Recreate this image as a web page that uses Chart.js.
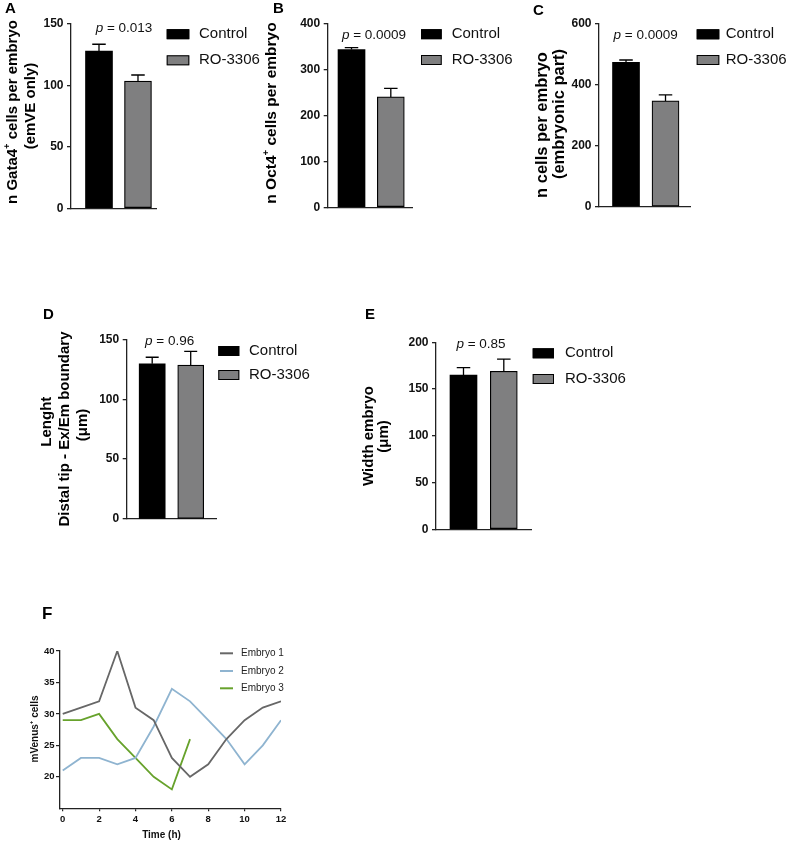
<!DOCTYPE html>
<html><head><meta charset="utf-8">
<script src="https://cdn.jsdelivr.net/npm/chart.js@4.4.1/dist/chart.umd.min.js"></script>
<style>
html,body{margin:0;padding:0;background:#fff;}
body{width:787px;height:842px;position:relative;overflow:hidden;}
canvas{position:absolute;}
</style>
</head><body>
<canvas id="cA" width="262" height="225" style="left:0px;top:0px"></canvas>
<canvas id="cB" width="262" height="225" style="left:262px;top:0px"></canvas>
<canvas id="cC" width="263" height="225" style="left:524px;top:0px"></canvas>
<canvas id="cD" width="300" height="240" style="left:30px;top:295px"></canvas>
<canvas id="cE" width="300" height="245" style="left:350px;top:295px"></canvas>
<canvas id="cF" width="330" height="247" style="left:20px;top:595px"></canvas>
<script>
// ---------------- DATA ----------------
const groups = ['Control', 'RO-3306'];
const gata4Mean = [128, 103.5];
const gata4Sem = [5.5, 5];
const oct4Mean = [343, 240];
const oct4Sem = [4, 18.5];
const cellsMean = [472, 346];
const cellsSem = [8, 20];
const lengthMean = [129.5, 128.5];
const lengthSem = [5.5, 11.5];
const widthMean = [165, 169];
const widthSem = [8, 13];
const pValues = ['0.013', '0.0009', '0.0009', '0.96', '0.85'];
const yTicksA = [0, 50, 100, 150];
const yTicksB = [0, 100, 200, 300, 400];
const yTicksC = [0, 200, 400, 600];
const yTicksD = [0, 50, 100, 150];
const yTicksE = [0, 50, 100, 150, 200];
const timeH = [0, 1, 2, 3, 4, 5, 6, 7, 8, 9, 10, 11, 12];
const embryo1 = [30, 31, 32, 40, 31, 29, 23, 20, 22, 26, 29, 31, 32];
const embryo2 = [21, 23, 23, 22, 23, 28, 34, 32, 29, 26, 22, 25, 29];
const embryo3 = [29, 29, 30, 26, 23, 20, 18, 26];
const embryoNames = ['Embryo 1', 'Embryo 2', 'Embryo 3'];
const timeTicks = [0, 2, 4, 6, 8, 10, 12];
const venusTicks = [20, 25, 30, 35, 40];

// ---------------- STYLES ----------------
const FONT = "'Liberation Sans', Arial, Helvetica, sans-serif";
const barColors = ['#000000', '#7f7f80'];
const lineColors = ['#676767', '#8fb4d0', '#67a22c'];
const AXIS = '#222222';

function drawRich(ctx, segs, size, cx, cy, rotate, bold, color) {
  ctx.save();
  ctx.translate(cx, cy);
  if (rotate) ctx.rotate(-Math.PI / 2);
  let total = 0;
  const parts = segs.map(s => {
    const fs = s.sup ? size * 0.62 : size;
    const font = (s.italic ? 'italic ' : '') + (bold ? 'bold ' : '') + fs + 'px ' + FONT;
    ctx.font = font;
    const w = ctx.measureText(s.t).width;
    total += w;
    return { t: s.t, font, w, dy: s.sup ? -size * 0.36 : 0 };
  });
  let x = -total / 2;
  ctx.textBaseline = 'middle';
  ctx.textAlign = 'left';
  ctx.fillStyle = color || '#000';
  for (const p of parts) { ctx.font = p.font; ctx.fillText(p.t, x, p.dy); x += p.w; }
  ctx.restore();
}

function barDeco(P) {
  return {
    id: 'barDeco',
    afterDatasetsDraw(chart) {
      const ctx = chart.ctx, ys = chart.scales.y;
      ctx.save();
      ctx.strokeStyle = '#000';
      ctx.lineWidth = 1.3;
      chart.data.datasets.forEach((ds, i) => {
        const bar = chart.getDatasetMeta(i).data[0];
        const yTop = ys.getPixelForValue(P.mean[i] + P.sem[i]);
        const half = P.barW * 0.25;
        ctx.beginPath();
        ctx.moveTo(bar.x, bar.y);
        ctx.lineTo(bar.x, yTop);
        ctx.moveTo(bar.x - half, yTop);
        ctx.lineTo(bar.x + half, yTop);
        ctx.stroke();
      });
      ctx.restore();
    },
    afterDraw(chart) {
      const ctx = chart.ctx, ox = P.left, oy = P.top;
      ctx.save();
      ctx.fillStyle = '#000';
      ctx.font = 'bold 15px ' + FONT;
      ctx.textBaseline = 'alphabetic';
      ctx.textAlign = 'left';
      ctx.fillText(P.letter, P.letterPos[0] - ox, P.letterPos[1] - oy);
      ctx.restore();
      P.title.forEach(l => drawRich(ctx, l.segs, P.titleSize, l.cx - ox, l.cy - oy, true, true, '#000'));
      drawRich(ctx, [{ t: 'p', italic: true }, { t: ' = ' + P.p }], 13.5, P.pPos[0] - ox, P.pPos[1] - oy, false, false, '#111');
      // legend
      ctx.save();
      groups.forEach((g, i) => {
        const cy = P.leg.cy[i] - oy;
        ctx.fillStyle = barColors[i];
        ctx.fillRect(P.leg.x - ox, cy - 5, P.leg.w, 10);
        ctx.strokeStyle = '#000';
        ctx.lineWidth = 1;
        ctx.strokeRect(P.leg.x - ox + 0.5, cy - 4.5, P.leg.w - 1, 9);
        ctx.fillStyle = '#111';
        ctx.font = '15px ' + FONT;
        ctx.textBaseline = 'middle';
        ctx.textAlign = 'left';
        ctx.fillText(g, P.leg.tx - ox, cy);
      });
      ctx.restore();
    }
  };
}

function barChart(P) {
  return new Chart(document.getElementById(P.id), {
    type: 'bar',
    data: {
      datasets: groups.map((g, i) => ({
        label: g,
        data: [{ x: i, y: P.mean[i] }],
        backgroundColor: barColors[i],
        borderColor: '#000000',
        borderWidth: i === 0 ? 0 : 1.2,
        borderSkipped: false,
        barThickness: P.barW,
        grouped: false
      }))
    },
    options: {
      responsive: false, animation: false, devicePixelRatio: 1,
      layout: { padding: P.pad },
      plugins: { legend: { display: false }, tooltip: { enabled: false } },
      scales: {
        x: {
          type: 'linear', min: P.xMin, max: P.xMax, offset: false,
          ticks: { display: false }, grid: { display: false },
          border: { display: true, color: AXIS, width: 1.3 },
          afterFit: s => { s.height = 0; }
        },
        y: {
          min: 0, max: P.ticks[P.ticks.length - 1],
          afterBuildTicks: s => { s.ticks = P.ticks.map(v => ({ value: v })); },
          ticks: { font: { family: FONT, size: 12, weight: 'bold' }, color: '#111', padding: 3.5 },
          grid: { display: true, drawOnChartArea: false, drawTicks: true, tickLength: 4, color: AXIS, lineWidth: 1.3 },
          border: { display: true, color: AXIS, width: 1.3 },
          afterFit: s => { s.width = 45; }
        }
      }
    },
    plugins: [barDeco(P)]
  });
}

const T = (t) => [{ t }];

barChart({ id: 'cA', left: 0, top: 0, pad: { left: 26, top: 24, right: 106, bottom: 16.7 },
  xMin: -0.718, xMax: 1.462, barW: 27, mean: gata4Mean, sem: gata4Sem, ticks: yTicksA,
  letter: 'A', letterPos: [5, 13], titleSize: 15,
  title: [{ segs: [{ t: 'n Gata4' }, { t: '+', sup: true }, { t: ' cells per embryo' }], cx: 12.5, cy: 112 },
          { segs: T('(emVE only)'), cx: 31, cy: 106 }],
  p: pValues[0], pPos: [124, 28.3], leg: { x: 166.7, w: 22.6, cy: [34.2, 60.3], tx: 199 } });

barChart({ id: 'cB', left: 262, top: 0, pad: { left: 20.7, top: 23.3, right: 111.3, bottom: 17.7 },
  xMin: -0.606, xMax: 1.557, barW: 27, mean: oct4Mean, sem: oct4Sem, ticks: yTicksB,
  letter: 'B', letterPos: [273, 13], titleSize: 15.5,
  title: [{ segs: [{ t: 'n Oct4' }, { t: '+', sup: true }, { t: ' cells per embryo' }], cx: 271.5, cy: 113 }],
  p: pValues[1], pPos: [374, 35.5], leg: { x: 421, w: 20.7, cy: [34.2, 60], tx: 451.7 } });

barChart({ id: 'cC', left: 524, top: 0, pad: { left: 30, top: 23.3, right: 97, bottom: 18.3 },
  xMin: -0.684, xMax: 1.62, barW: 27, mean: cellsMean, sem: cellsSem, ticks: yTicksC,
  letter: 'C', letterPos: [533, 15], titleSize: 16.5,
  title: [{ segs: T('n cells per embryo'), cx: 542.5, cy: 125 },
          { segs: T('(embryonic part)'), cx: 559, cy: 114 }],
  p: pValues[2], pPos: [645.7, 35.5], leg: { x: 696.7, w: 22.6, cy: [34.3, 60], tx: 725.7 } });

barChart({ id: 'cD', left: 30, top: 295, pad: { left: 51.7, top: 44.3, right: 113.3, bottom: 16 },
  xMin: -0.662, xMax: 1.675, barW: 26, mean: lengthMean, sem: lengthSem, ticks: yTicksD,
  letter: 'D', letterPos: [43, 319], titleSize: 15,
  title: [{ segs: T('Lenght'), cx: 47, cy: 421.7 },
          { segs: T('Distal tip - Ex/Em boundary'), cx: 64.5, cy: 429 },
          { segs: T('(\u03bcm)'), cx: 83, cy: 425 }],
  p: pValues[3], pPos: [169.7, 340.8], leg: { x: 218.3, w: 21, cy: [351, 375], tx: 249 } });

barChart({ id: 'cE', left: 350, top: 295, pad: { left: 41, top: 47.3, right: 118.3, bottom: 10.7 },
  xMin: -0.682, xMax: 1.692, barW: 27, mean: widthMean, sem: widthSem, ticks: yTicksE,
  letter: 'E', letterPos: [365, 319], titleSize: 15,
  title: [{ segs: T('Width embryo'), cx: 369, cy: 436 },
          { segs: T('(\u03bcm)'), cx: 384, cy: 436.5 }],
  p: pValues[4], pPos: [481, 344], leg: { x: 532.7, w: 21.3, cy: [353.3, 379], tx: 565 } });

// ---------------- PANEL F ----------------
const PF = { left: 20, top: 595 };
const fDeco = {
  id: 'fDeco',
  afterDraw(chart) {
    const ctx = chart.ctx, ox = PF.left, oy = PF.top;
    ctx.save();
    ctx.fillStyle = '#000';
    ctx.font = 'bold 17px ' + FONT;
    ctx.textBaseline = 'alphabetic';
    ctx.fillText('F', 42 - ox, 619 - oy);
    ctx.restore();
    drawRich(ctx, [{ t: 'mVenus' }, { t: '+', sup: true }, { t: ' cells' }], 10, 35 - ox, 729 - oy, true, true, '#111');
    drawRich(ctx, T('Time (h)'), 10, 161.5 - ox, 835 - oy, false, true, '#111');
    const legY = [653.3, 671, 688.3];
    ctx.save();
    chart.data.datasets.forEach((ds, k) => {
      const y = legY[k] - oy;
      ctx.strokeStyle = ds.borderColor;
      ctx.lineWidth = 2;
      ctx.beginPath();
      ctx.moveTo(220 - ox, y);
      ctx.lineTo(233 - ox, y);
      ctx.stroke();
      ctx.fillStyle = '#222';
      ctx.font = '10px ' + FONT;
      ctx.textBaseline = 'middle';
      ctx.fillText(ds.label, 241 - ox, y);
    });
    ctx.restore();
  }
};

new Chart(document.getElementById('cF'), {
  type: 'line',
  data: {
    datasets: [embryo1, embryo2, embryo3].map((arr, k) => ({
      label: embryoNames[k],
      data: arr.map((v, i) => ({ x: timeH[i], y: v })),
      borderColor: lineColors[k],
      borderWidth: 1.8,
      pointRadius: 0,
      tension: 0,
      fill: false
    }))
  },
  options: {
    responsive: false, animation: false, devicePixelRatio: 1,
    layout: { padding: { left: 10, top: 56, right: 69, bottom: 13.7 } },
    plugins: { legend: { display: false }, tooltip: { enabled: false } },
    scales: {
      x: {
        type: 'linear', min: -0.15, max: 12,
        afterBuildTicks: s => { s.ticks = timeTicks.map(v => ({ value: v })); },
        ticks: { font: { family: FONT, size: 9.5, weight: 'bold' }, color: '#111', padding: 2, maxRotation: 0, autoSkip: false },
        grid: { display: true, drawOnChartArea: false, drawTicks: true, tickLength: 3, color: AXIS, lineWidth: 1.2 },
        border: { display: true, color: AXIS, width: 1.3 },
        afterFit: s => { s.height = 20; }
      },
      y: {
        min: 15, max: 40,
        afterBuildTicks: s => { s.ticks = venusTicks.map(v => ({ value: v })); },
        ticks: { font: { family: FONT, size: 9.5, weight: 'bold' }, color: '#111', padding: 1.5 },
        grid: { display: true, drawOnChartArea: false, drawTicks: true, tickLength: 4, color: AXIS, lineWidth: 1.2 },
        border: { display: true, color: AXIS, width: 1.3 },
        afterFit: s => { s.width = 30; }
      }
    }
  },
  plugins: [fDeco]
});
</script>
</body></html>
